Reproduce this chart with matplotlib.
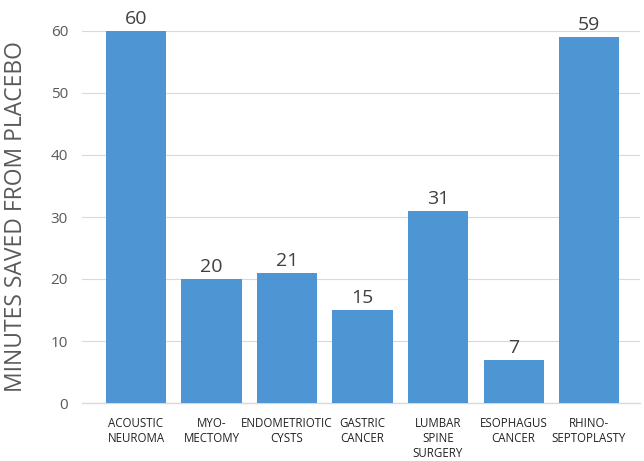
import matplotlib.pyplot as plt

# data
procedures = ['ACOUSTIC\nNEUROMA', 'MYO-\nMECTOMY', 'ENDOMETRIOTIC\nCYSTS', 'GASTRIC\nCANCER',
              'LUMBAR\nSPINE\nSURGERY', 'ESOPHAGUS\nCANCER', 'RHINO-\nSEPTOPLASTY']
minutes_saved = [60, 20, 21, 15, 31, 7, 59]
yticks = [0, 10, 20, 30, 40, 50, 60]

plt.rcParams['font.family'] = ['Open Sans', 'DejaVu Sans']

fig = plt.figure(figsize=(6.44, 4.61), dpi=100)
ax = fig.add_axes([82 / 644, 1 - 403 / 461, 558 / 644, 372 / 461])

x = list(range(len(procedures)))
bars = ax.bar(x, minutes_saved, width=0.795, color='#4e96d3', zorder=3)

# value labels on top of bars
for xi, v in zip(x, minutes_saved):
    ax.text(xi, v + 0.5, str(v), ha='center', va='bottom', fontsize=14, color='#404040')

ax.set_xlim(-0.715, 6.675)
ax.set_ylim(0, 60)
ax.set_yticks(yticks)
ax.tick_params(axis='y', length=0, labelsize=11, labelcolor='#595959', pad=10)
ax.set_xticks(x)
ax.set_xticklabels(procedures, fontsize=8.3, color='#222222', linespacing=1.2, va='top')
ax.tick_params(axis='x', length=0, pad=10)
ax.grid(axis='y', color='#d9d9d9', linewidth=0.8, zorder=0)

for side in ['top', 'right', 'left']:
    ax.spines[side].set_visible(False)
ax.spines['bottom'].set_color('#d9d9d9')
ax.spines['bottom'].set_linewidth(1.0)

ax.set_ylabel('MINUTES SAVED FROM PLACEBO', fontsize=16.5, color='#595959')
ax.yaxis.set_label_coords(-0.097, 0.5)

plt.savefig('out.png', dpi=100)
